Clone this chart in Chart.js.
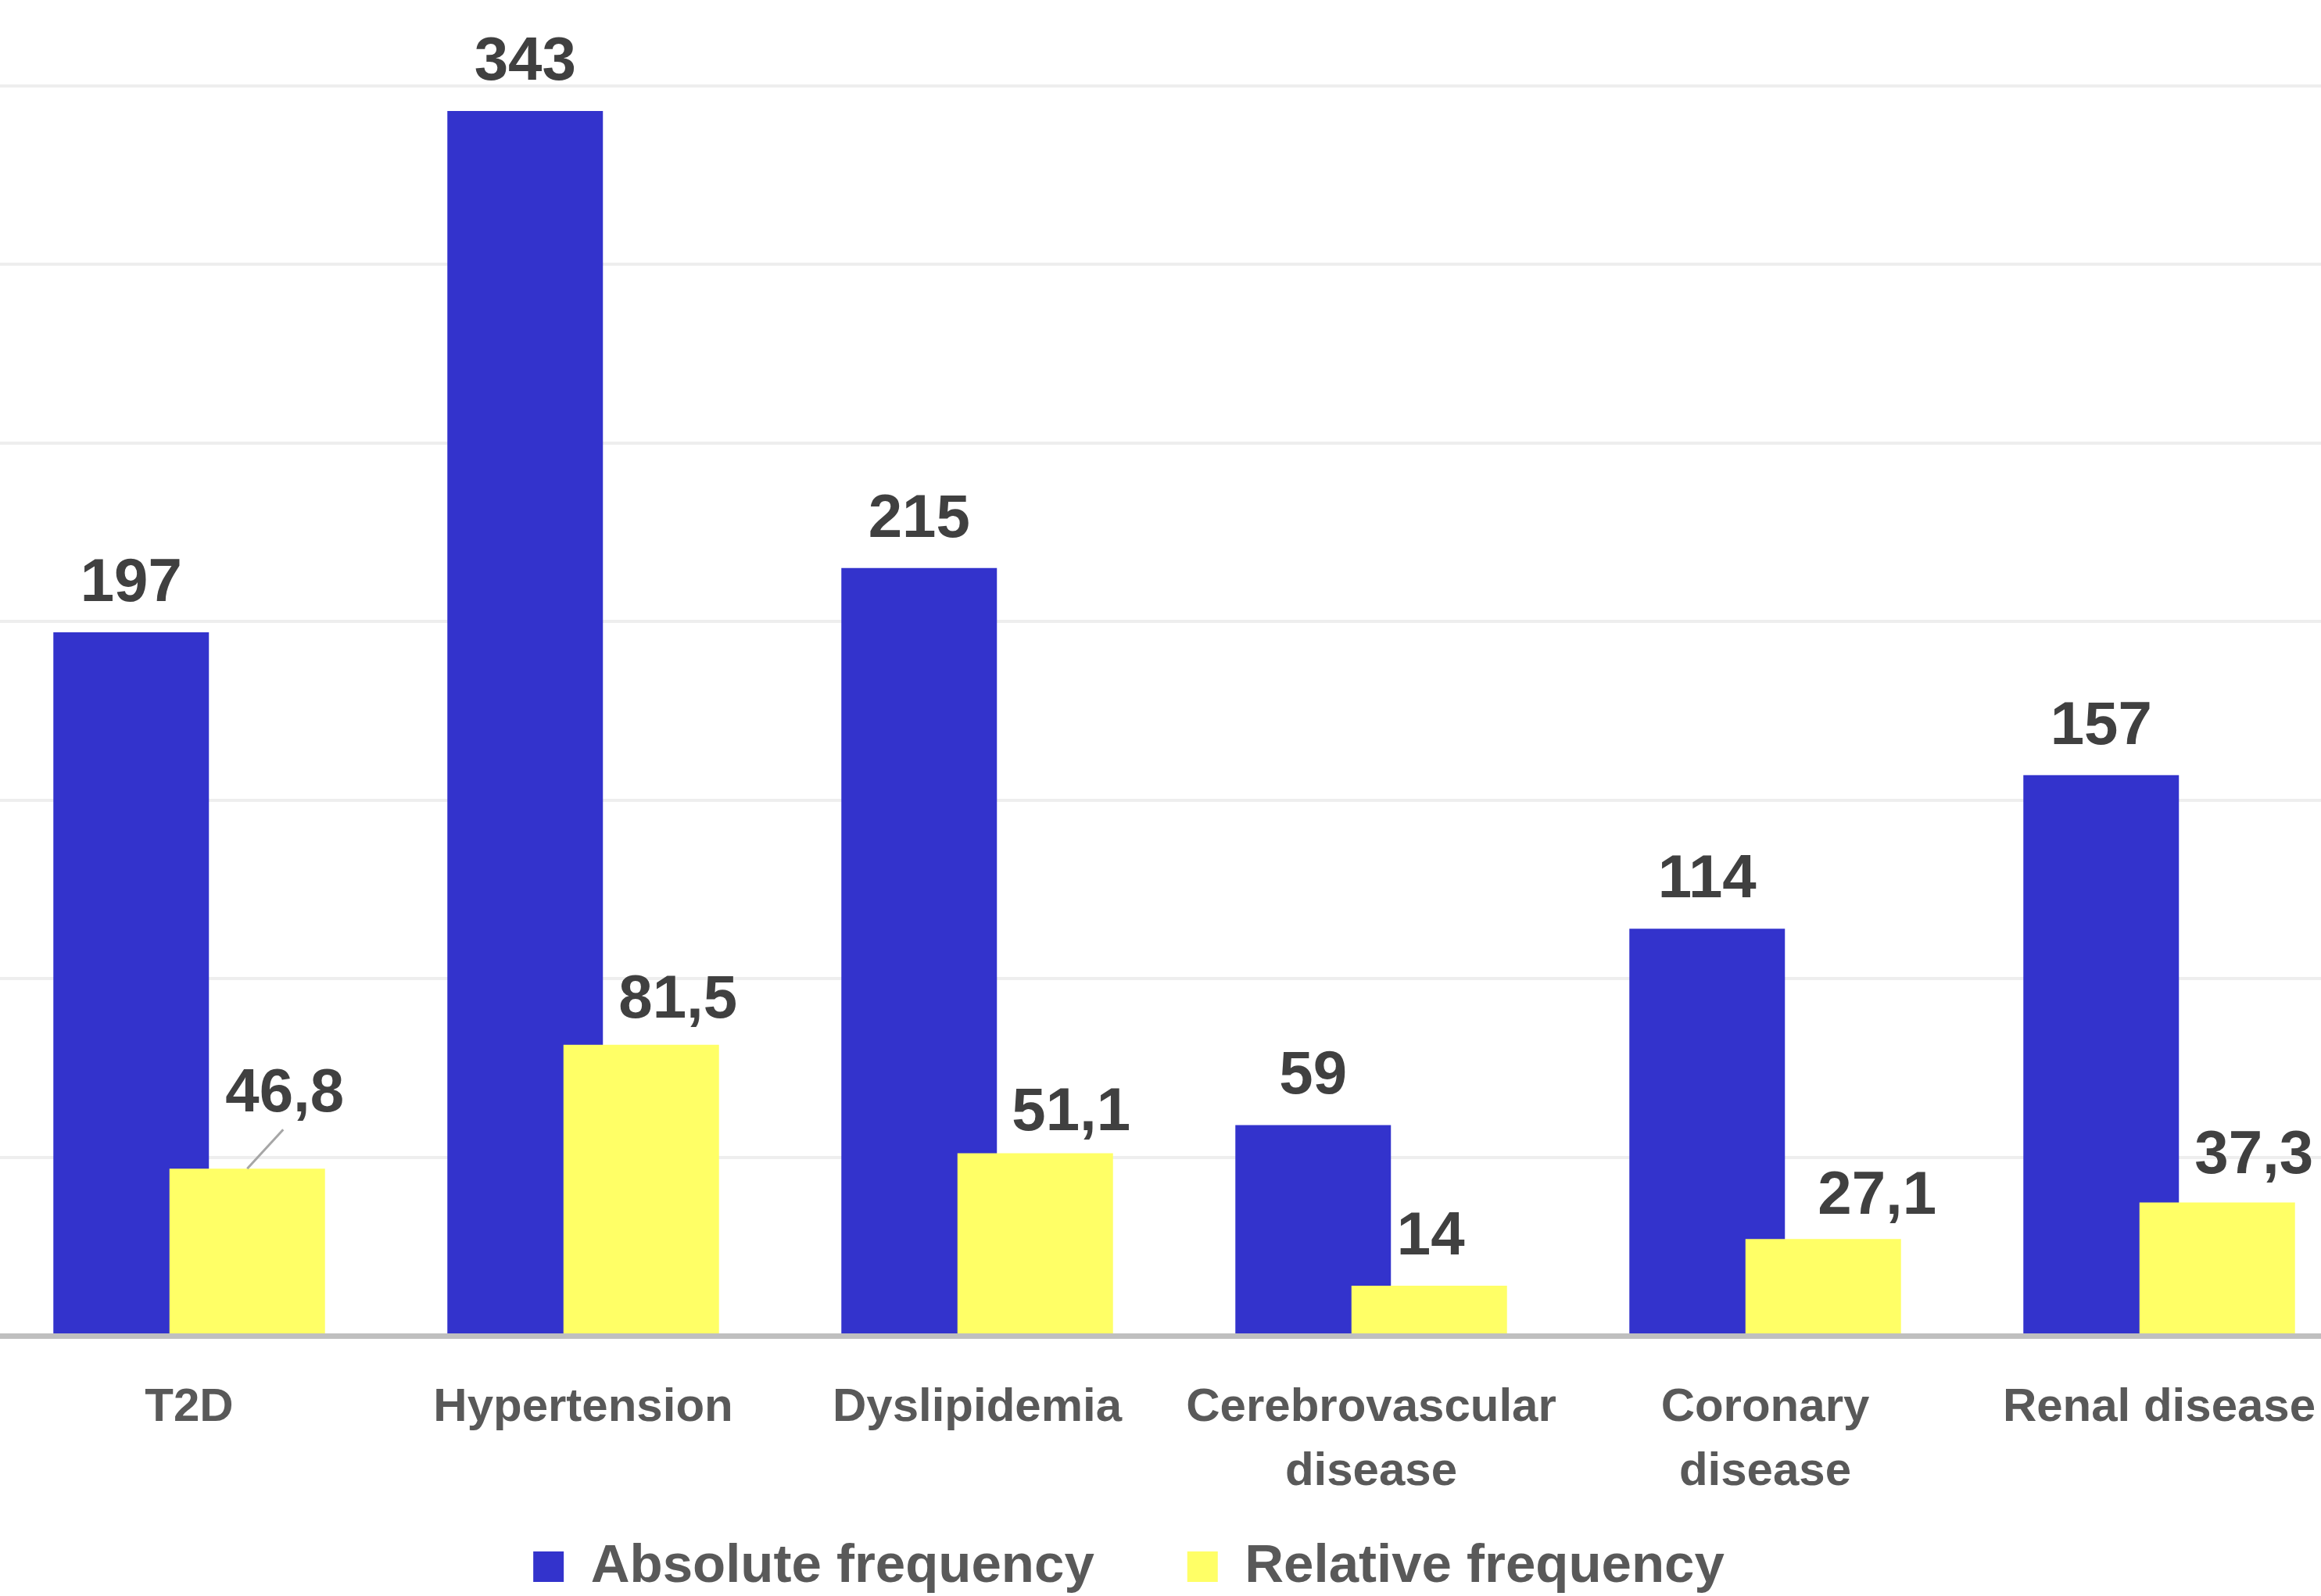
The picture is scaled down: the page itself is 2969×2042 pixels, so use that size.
<!DOCTYPE html>
<html>
<head>
<meta charset="utf-8">
<script src="https://cdn.jsdelivr.net/npm/chart.js@4.4.1/dist/chart.umd.min.js"></script>
<style>
  html, body { margin: 0; padding: 0; background: #ffffff; overflow: hidden; width: 2969px; height: 2042px; }
  #wrap { position: absolute; left: -126px; top: 0; width: 3140px; height: 2049px; }
</style>
</head>
<body>
<div id="wrap"><canvas id="c"></canvas></div>
<script>
// ---- data ----
const categories = ['T2D', 'Hypertension', 'Dyslipidemia', ['Cerebrovascular', 'disease'], ['Coronary', 'disease'], 'Renal disease'];
const absoluteFrequency = [197, 343, 215, 59, 114, 157];
const relativeFrequency = [46.8, 81.5, 51.1, 14, 27.1, 37.3];
const seriesNames = ['Absolute frequency', 'Relative frequency'];
const yMin = 0, yMax = 350, yStep = 50;

// ---- label placement (annotation styling): [dx, gap from bar top to text baseline] ----
const absLabelPos = [[0, 40], [0, 40], [0, 40], [0, 40], [0, 40], [0, 40]];
const relLabelPos = [[48, 73], [47, 35], [46, 30], [2, 40], [69, 32], [47, 38]];
const relLeader = [true, false, false, false, false, false];

const FONT = '"Liberation Sans", Arial, sans-serif';
const fmt = v => String(v).replace('.', ',');

// Draw datasets left-to-right so the right bar (yellow) overlaps the left one, then value labels.
const barsAndLabels = {
  id: 'barsAndLabels',
  afterLayout(chart) {
    // let the two-line category labels extend below the axis box (no clipping)
    chart.scales.x.bottom = chart.height;
  },
  beforeDatasetsDraw(chart) {
    const ctx = chart.ctx;
    const n = chart.data.datasets.length;
    for (let i = 0; i < n; i++) {
      if (chart.isDatasetVisible(i)) chart.getDatasetMeta(i).controller.draw();
    }
    ctx.save();
    ctx.font = 'bold 78px ' + FONT;
    ctx.fillStyle = '#404040';
    ctx.textAlign = 'center';
    ctx.textBaseline = 'alphabetic';
    const posSets = [absLabelPos, relLabelPos];
    for (let i = 0; i < n; i++) {
      if (!chart.isDatasetVisible(i)) continue;
      const meta = chart.getDatasetMeta(i);
      const vals = chart.data.datasets[i].data;
      meta.data.forEach((bar, j) => {
        const [dx, gap] = posSets[i][j];
        const tx = bar.x + dx, ty = bar.y - gap;
        if (i === 1 && relLeader[j]) {
          ctx.strokeStyle = '#a6a6a6';
          ctx.lineWidth = 3;
          ctx.beginPath();
          ctx.moveTo(bar.x, bar.y);
          ctx.lineTo(tx - 2, ty + 23);
          ctx.stroke();
        }
        ctx.fillText(fmt(vals[j]), tx, ty);
      });
    }
    ctx.restore();
    return false;
  }
};

new Chart(document.getElementById('c'), {
  type: 'bar',
  data: {
    labels: categories,
    datasets: [
      { label: seriesNames[0], data: absoluteFrequency, backgroundColor: '#3333cc', borderWidth: 0 },
      { label: seriesNames[1], data: relativeFrequency, backgroundColor: '#ffff66', borderWidth: 0 }
    ]
  },
  options: {
    responsive: true,
    maintainAspectRatio: false,
    animation: false,
    events: [],
    barPercentage: 1.34,
    categoryPercentage: 0.5893,
    layout: { padding: { top: 110, left: 0, right: 0, bottom: 0 } },
    scales: {
      x: {
        type: 'category',
        offset: true,
        grid: { display: false },
        border: { display: true, color: '#bfbfbf', width: 7, z: 1 },
        ticks: {
          autoSkip: false,
          maxRotation: 0,
          minRotation: 0,
          padding: 43,
          color: '#595959',
          font: { family: FONT, size: 60, weight: 'bold', lineHeight: 1.37 }
        },
        afterFit(scale) { scale.height = 142; }
      },
      y: {
        min: yMin,
        max: yMax,
        ticks: { display: false, stepSize: yStep },
        grid: { color: '#eeeeee', lineWidth: 4, drawTicks: false },
        border: { display: false },
        afterFit(scale) { scale.width = 116; }
      }
    },
    plugins: {
      tooltip: { enabled: false },
      legend: {
        display: true,
        position: 'bottom',
        align: 'center',
        labels: {
          boxWidth: 39,
          boxHeight: 39,
          padding: 119,
          color: '#595959',
          font: { family: FONT, size: 69, weight: 'bold' }
        }
      }
    }
  },
  plugins: [barsAndLabels]
});
</script>
</body>
</html>
